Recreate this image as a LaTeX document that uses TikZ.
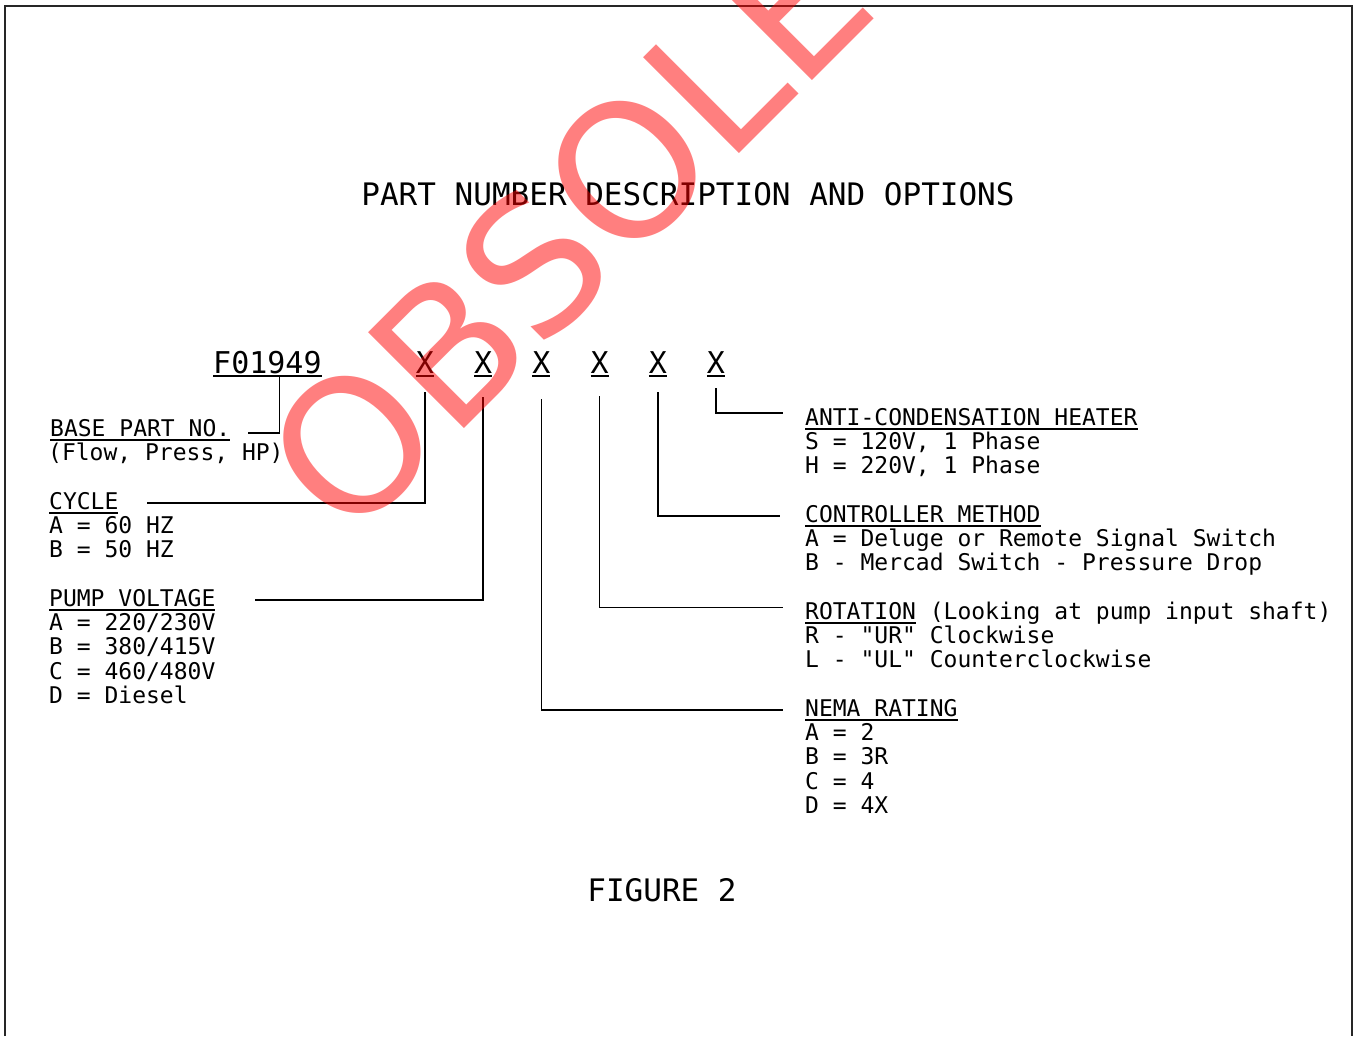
\documentclass[tikz,border=0pt]{standalone}
\usepackage{fontspec}
\usepackage{tikz}
\usetikzlibrary{positioning}
\newfontfamily\cad{DejaVu Sans Mono}
\newfontfamily\stamp{DejaVu Sans}
% underlined label text
\newcommand\uln[1]{\setbox0=\hbox{#1}\rlap{\rule[-4pt]{\wd0}{1.6pt}}\box0\relax}

\begin{document}
\begin{tikzpicture}[x=1pt,y=-1pt,
  txt/.style={inner sep=0pt, anchor=base west, align=left, font=\cad\fontsize{23}{24.2}\selectfont},
  big/.style={inner sep=0pt, anchor=base, font=\cad\fontsize{31}{31}\selectfont},
  code/.style={inner sep=0pt, anchor=base, font=\cad\fontsize{30}{30}\selectfont},
  wire/.style={line width=1.5pt},
  stampmark/.style={inner sep=0pt, anchor=base west, rotate=45, text=red, text opacity=0.5,
    font=\stamp\fontsize{186}{186}\selectfont}]
\useasboundingbox (0,0) rectangle (1357,1036);
\clip (0,0) rectangle (1357,1036);
\draw[line width=1.2pt, black!85] (5,1036) |- (1352,6) -- (1352,1036);

\node[big] (title) at (688,205.5) {PART NUMBER DESCRIPTION AND OPTIONS};
\node[code, anchor=base west] (fno) at (213,373) {\uln{F01949}};
\foreach \i in {1,...,6}
  \node[code] (x\i) at ({425+58.2*(\i-1)},373) {\uln{X}};
\node[big] (fig) at (662,901) {FIGURE 2};

% left side (option blocks sit on their last line)
\node[txt] (base) at (50,436.5) {\uln{BASE PART NO.}};
\node[txt] (baseopt) at (48,460.7) {(Flow, Press, HP)};
\node[txt] (cycle) at (49,509.5) {\uln{CYCLE}};
\node[txt] (cycleopt) at (49,557.9) {A = 60 HZ\\B = 50 HZ};
\node[txt] (volt) at (49,606.5) {\uln{PUMP VOLTAGE}};
\node[txt] (voltopt) at (49,703.3) {A = 220/230V\\B = 380/415V\\C = 460/480V\\D = Diesel};

% right side
\node[txt] (heater) at (805,425.5) {\uln{ANTI-CONDENSATION HEATER}};
\node[txt] (heateropt) at (805,473.9) {S = 120V, 1 Phase\\H = 220V, 1 Phase};
\node[txt] (ctrl) at (805,522.5) {\uln{CONTROLLER METHOD}};
\node[txt] (ctrlopt) at (805,570.9) {A = Deluge or Remote Signal Switch\\B - Mercad Switch - Pressure Drop};
\node[txt] (rot) at (805,619.5) {\uln{ROTATION} (Looking at pump input shaft)};
\node[txt] (rotopt) at (805,667.9) {R - "UR" Clockwise\\L - "UL" Counterclockwise};
\node[txt] (nema) at (805,716.5) {\uln{NEMA RATING}};
\node[txt] (nemaopt) at (805,813.3) {A = 2\\B = 3R\\C = 4\\D = 4X};

% leaders
\draw[wire] ([xshift=12pt]fno.south) |- ([xshift=18pt,yshift=-3pt]base.east);
\draw[wire] ([yshift=-15pt]x1.south) |- ([xshift=28pt]cycle.east);
\draw[wire] ([yshift=-20pt]x2.south) |- ([xshift=39pt]volt.east);
\draw[wire] ([yshift=-22pt]x3.south) |- ([xshift=-22pt]nema.west);
\draw[wire] ([yshift=-19pt]x4.south) |- ([xshift=-22pt,yshift=5.5pt]rot.west);
\draw[wire] ([yshift=-15pt]x5.south) |- ([xshift=-25pt]ctrl.west);
\draw[wire] ([yshift=-11pt]x6.south) |- ([xshift=-22pt,yshift=6pt]heater.west);

\node[stampmark] (obs) at (348,545) {OBSOLETE};
\end{tikzpicture}
\end{document}
